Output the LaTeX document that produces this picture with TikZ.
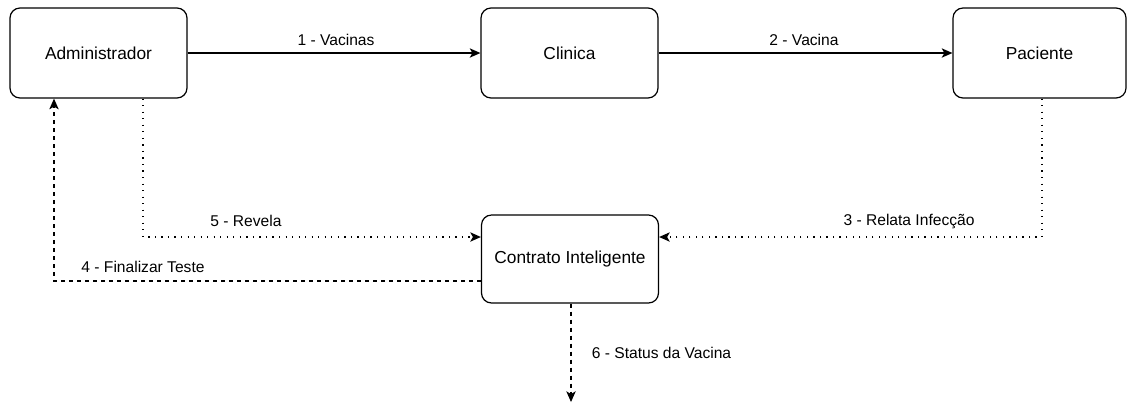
\documentclass[tikz,border=0pt]{standalone}
\usepackage{fontspec}
\setmainfont{Liberation Sans}
\usetikzlibrary{arrows.meta}

\tikzset{
	actor/.style={draw, line width=0.9pt, rounded corners=7.5pt, minimum width=132.75pt, minimum height=67.5pt, font=\fontsize{13}{15}\selectfont},
	msg/.style={font=\fontsize{11.7}{14}\selectfont},
	sparse/.style={dash pattern=on 0.9pt off 4pt},
}

\begin{document}
\begin{tikzpicture}[x=0.75pt, y=-0.75pt, >={Stealth[length=8pt,width=7pt,inset=2pt]}]
	\useasboundingbox (0,0) rectangle (1127,405);
	% boxes
	\node[actor] (adm) at (98.5,53) {Administrador};
	\node[actor] (cli) at (569.5,53) {Clinica};
	\node[actor, minimum width=129.75pt] (pac) at (1039.5,53) {Paciente};
	\node[actor, minimum height=66pt] (ctr) at (570,259) {Contrato Inteligente};
	\coordinate (fim) at (571,402);
	% connectors
	\draw[line width=0.9pt,->] (adm.east) -- (cli.west);
	\draw[line width=0.9pt,->] (cli.east) -- (pac.west);
	\draw[line width=0.9pt,sparse,->] (adm.south -| 143,0) |- (ctr.west |- 0,237);
	\draw[line width=0.9pt,sparse,->] (pac.south -| 1042,0) |- (ctr.east |- 0,237);
	\draw[line width=0.9pt,dashed,->] (ctr.west |- 0,281) -| (adm.south -| 54,0);
	\draw[line width=0.9pt,dashed,->] (ctr.south -| fim) -- (fim);
	% labels
	\node[msg] (l1) at (336,40) {1 - Vacinas};
	\node[msg] (l2) at (804,40) {2 - Vacina};
	\node[msg] (l3) at (909,221) {3 - Relata Infecção};
	\node[msg] (l4) at (143,267) {4 - Finalizar Teste};
	\node[msg] (l5) at (246,221) {5 - Revela};
	\node[msg] (l6) at (661.5,353) {6 - Status da Vacina};
\end{tikzpicture}
\end{document}
